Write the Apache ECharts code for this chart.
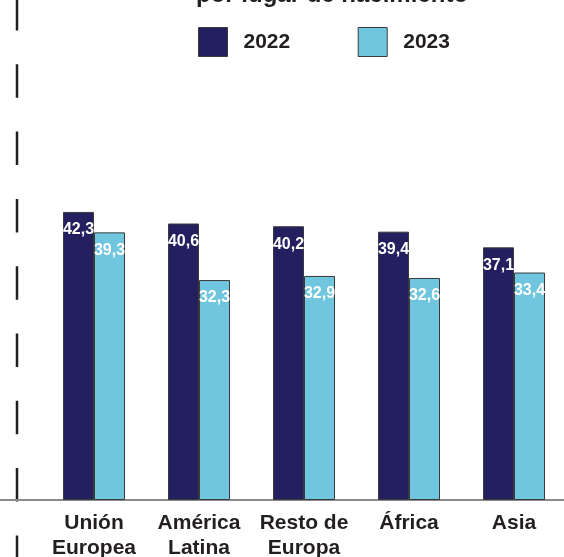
<!DOCTYPE html>
<html>
<head>
<meta charset="utf-8">
<script src="https://cdn.jsdelivr.net/npm/echarts@6/dist/echarts.min.js"></script>
<style>
html,body{margin:0;padding:0;background:#fff;}
#c{width:564px;height:557px;}
</style>
</head>
<body>
<div id="c"></div>
<script>
const titleText = 'por lugar de nacimiento';
const categories = ['Unión\nEuropea', 'América\nLatina', 'Resto de\nEuropa', 'África', 'Asia'];
const seriesNames = ['2022', '2023'];
const values2022 = [42.3, 40.6, 40.2, 39.4, 37.1];
const values2023 = [39.3, 32.3, 32.9, 32.6, 33.4];

const navy = '#241f5f';
const sky = '#70c5df';
const ink = '#231f20';
const sans = "'Liberation Sans', Arial, sans-serif";

const chart = echarts.init(document.getElementById('c'));
const barLabel = {
  show: true,
  position: 'insideTop',
  distance: 10,
  color: '#fff',
  fontFamily: sans,
  fontWeight: 'bold',
  fontSize: 16,
  formatter: p => String(p.value).replace('.', ',')
};
chart.setOption({
  animation: false,
  title: {
    text: titleText,
    left: 191,
    top: -22,
    textStyle: {fontFamily: sans, fontWeight: 'bold', fontSize: 24, color: ink}
  },
  legend: {
    left: 193,
    top: 22,
    itemWidth: 29,
    itemHeight: 29,
    itemGap: 67.5,
    icon: 'rect',
    data: seriesNames,
    itemStyle: {borderColor: '#3a3a3a', borderWidth: 1},
    textStyle: {fontFamily: sans, fontWeight: 'bold', fontSize: 21, color: ink, padding: [0, 0, 0, 11]}
  },
  grid: {left: 41.5, right: -2.5, top: 91.4, bottom: 57, containLabel: false, outerBoundsMode: 'none'},
  xAxis: {
    type: 'category',
    data: categories,
    axisTick: {show: false},
    axisLine: {lineStyle: {color: '#8a8a8a', width: 2}},
    axisLabel: {
      interval: 0,
      margin: 11,
      fontFamily: sans,
      fontWeight: 'bold',
      fontSize: 21,
      lineHeight: 25,
      color: ink
    }
  },
  yAxis: {
    type: 'value',
    min: 0,
    max: 60,
    show: false,
    splitLine: {show: false}
  },
  series: [
    {
      name: seriesNames[0], type: 'bar', data: values2022, barWidth: 31, barGap: '0%',
      itemStyle: {color: navy, borderColor: '#3a3a3a', borderWidth: 1},
      label: barLabel
    },
    {
      name: seriesNames[1], type: 'bar', data: values2023, barWidth: 31,
      itemStyle: {color: sky, borderColor: '#3a3a3a', borderWidth: 1},
      label: barLabel
    }
  ],
  graphic: [
    {type: 'line', shape: {x1: 17, y1: -3, x2: 17, y2: 557}, style: {stroke: ink, lineWidth: 2.5, lineDash: [33.5, 33.8]}, silent: true},
    {type: 'line', shape: {x1: 0, y1: 500, x2: 42, y2: 500}, style: {stroke: '#8a8a8a', lineWidth: 2}, silent: true}
  ]
});
</script>
</body>
</html>
